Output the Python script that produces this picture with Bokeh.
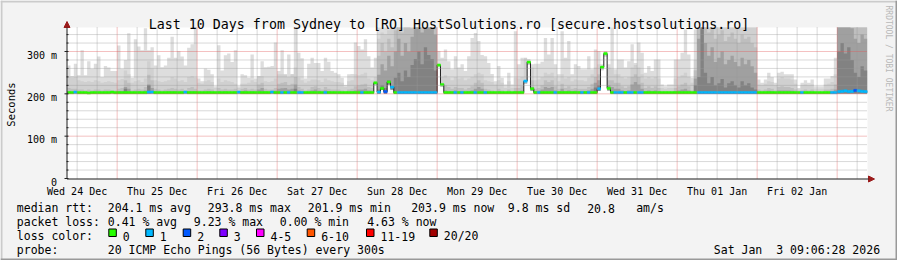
import math
from datetime import datetime, timedelta
import numpy as np
from bokeh.plotting import figure
from bokeh.models import Range1d, Label, Arrow, NormalHead, BoxAnnotation
from bokeh.core.properties import value
from bokeh.embed import file_html
from bokeh.resources import INLINE

# ---------------- data ----------------
TITLE = "Last 10 Days from Sydney to [RO] HostSolutions.ro [secure.hostsolutions.ro]"
END_TIME = datetime(2026, 1, 3, 9, 6, 28)
SPAN_DAYS = 10
STEP_SECONDS = 3600
DAY_LABELS = ["Wed 24 Dec", "Thu 25 Dec", "Fri 26 Dec", "Sat 27 Dec", "Sun 28 Dec",
              "Mon 29 Dec", "Tue 30 Dec", "Wed 31 Dec", "Thu 01 Jan", "Fri 02 Jan"]
Y_TICKS = [0, 100, 200, 300]
Y_TICK_LABELS = ["0", "100 m", "200 m", "300 m"]
Y_MINOR_STEP = 20
Y_MAX = 356.7
Y_LABEL = "Seconds"

# hourly smoke bands (ms); outermost (max) to innermost
SMOKE_MAX = [
    267, 242, 271, 244, 303, 244, 277, 259, 271, 288, 240, 266, 262, 254, 254, 314, 259, 280, 343, 238,
    329, 312, 303, 355, 303, 310, 267, 291, 263, 267, 285, 335, 285, 301, 288, 267, 309, 317, 360, 236,
    230, 260, 257, 246, 218, 315, 255, 291, 295, 275, 303, 218, 246, 244, 238, 293, 236, 236, 277, 263,
    264, 266, 321, 254, 303, 238, 293, 246, 355, 297, 284, 236, 271, 285, 273, 273, 254, 285, 276, 254,
    250, 246, 238, 221, 246, 247, 321, 313, 305, 329, 289, 262, 285, 360, 360, 360, 360, 360, 360, 360,
    360, 360, 360, 360, 360, 360, 360, 360, 360, 360, 360, 301, 285, 305, 277, 258, 289, 262, 270, 254,
    289, 332, 344, 325, 292, 289, 273, 247, 230, 266, 238, 222, 250, 222, 348, 270, 285, 281, 282, 270,
    271, 271, 276, 332, 293, 332, 270, 246, 348, 285, 325, 246, 270, 266, 258, 258, 289, 258, 305, 301,
    270, 300, 270, 360, 258, 281, 281, 262, 277, 317, 273, 321, 297, 250, 266, 254, 281, 281, 222, 218,
    222, 222, 281, 281, 297, 352, 293, 238, 352, 360, 360, 360, 360, 360, 360, 360, 360, 360, 360, 360,
    360, 360, 360, 360, 360, 360, 360, 234, 226, 234, 250, 240, 226, 250, 252, 246, 246, 246, 234, 214,
    226, 232, 226, 234, 218, 218, 218, 236, 236, 242, 285, 360, 360, 360, 360, 360, 360, 360, 360, 360,
]
SMOKE_Q2 = [
    240, 238, 240, 232, 230, 228, 230, 228, 232, 230, 226, 228, 230, 228, 226, 232, 235, 255, 246, 226,
    230, 232, 228, 236, 277, 260, 232, 230, 228, 230, 232, 240, 236, 230, 232, 228, 240, 242, 238, 226,
    224, 230, 232, 228, 214, 236, 228, 232, 230, 228, 224, 214, 224, 224, 226, 232, 228, 242, 242, 230,
    228, 230, 236, 246, 246, 246, 240, 246, 262, 238, 232, 226, 230, 234, 234, 232, 228, 236, 232, 230,
    228, 228, 226, 216, 230, 232, 246, 244, 246, 250, 236, 232, 240, 330, 345, 340, 350, 355, 360, 360,
    360, 360, 360, 360, 360, 360, 360, 360, 360, 360, 360, 246, 240, 244, 238, 232, 240, 236, 238, 232,
    236, 240, 246, 250, 246, 232, 230, 228, 222, 232, 226, 214, 230, 214, 238, 236, 240, 285, 278, 262,
    232, 234, 240, 250, 246, 250, 238, 230, 246, 236, 240, 230, 234, 232, 232, 230, 238, 246, 262, 270,
    265, 300, 262, 258, 246, 246, 240, 236, 240, 262, 268, 262, 246, 236, 240, 236, 240, 236, 214, 212,
    214, 214, 236, 240, 244, 250, 240, 226, 280, 360, 360, 360, 360, 360, 360, 360, 360, 360, 360, 360,
    360, 360, 360, 360, 360, 360, 360, 222, 220, 224, 230, 228, 220, 236, 240, 236, 236, 234, 224, 210,
    220, 222, 220, 222, 212, 212, 212, 222, 224, 228, 246, 360, 360, 360, 360, 360, 360, 360, 360, 360,
]
SMOKE_Q3 = [
    214, 212, 212, 210, 210, 208, 210, 208, 210, 210, 208, 210, 210, 208, 208, 212, 214, 232, 226, 208,
    210, 212, 210, 216, 245, 232, 212, 210, 208, 210, 212, 214, 212, 210, 212, 208, 214, 216, 212, 208,
    208, 210, 212, 210, 206, 214, 210, 212, 210, 210, 212, 206, 212, 214, 210, 212, 210, 222, 226, 212,
    210, 210, 214, 224, 226, 228, 220, 224, 240, 216, 212, 208, 210, 216, 218, 214, 210, 216, 212, 210,
    210, 210, 208, 206, 210, 212, 218, 220, 222, 224, 216, 214, 218, 290, 320, 300, 330, 310, 350, 360,
    345, 360, 360, 355, 360, 360, 360, 360, 360, 360, 360, 222, 218, 220, 216, 212, 216, 214, 214, 210,
    214, 218, 226, 232, 226, 212, 210, 208, 206, 212, 208, 204, 210, 204, 214, 214, 218, 232, 262, 232,
    212, 214, 220, 232, 228, 232, 218, 212, 224, 214, 218, 212, 214, 212, 212, 212, 216, 224, 240, 246,
    250, 270, 232, 232, 226, 226, 218, 214, 218, 240, 246, 240, 226, 214, 218, 214, 218, 214, 206, 206,
    206, 206, 214, 218, 222, 226, 218, 208, 256, 360, 360, 360, 345, 360, 330, 340, 350, 325, 335, 345,
    330, 320, 340, 330, 335, 320, 310, 210, 208, 210, 214, 212, 208, 216, 218, 216, 216, 214, 210, 206,
    208, 210, 208, 210, 204, 204, 204, 210, 210, 212, 222, 360, 360, 360, 360, 360, 360, 360, 360, 360,
]
SMOKE_Q4 = [
    206, 205, 205, 204, 204, 204, 205, 204, 205, 205, 204, 205, 205, 204, 204, 206, 206, 216, 212, 204,
    205, 206, 205, 208, 222, 214, 206, 205, 204, 205, 206, 206, 206, 205, 206, 204, 206, 206, 206, 204,
    204, 205, 206, 205, 203, 206, 205, 206, 205, 205, 206, 203, 206, 208, 205, 206, 205, 210, 214, 206,
    205, 205, 207, 212, 213, 214, 210, 212, 222, 208, 206, 204, 205, 208, 210, 207, 205, 208, 206, 205,
    205, 205, 204, 203, 205, 206, 208, 210, 210, 212, 208, 207, 212, 245, 270, 255, 290, 265, 300, 330,
    290, 320, 300, 335, 360, 360, 345, 360, 360, 360, 340, 210, 208, 208, 206, 206, 208, 206, 206, 205,
    206, 208, 212, 216, 212, 206, 205, 204, 203, 206, 204, 203, 205, 203, 206, 206, 208, 222, 240, 216,
    206, 207, 210, 216, 214, 216, 208, 206, 212, 206, 208, 206, 207, 206, 206, 206, 208, 212, 226, 232,
    238, 250, 220, 216, 212, 212, 208, 206, 208, 222, 228, 222, 212, 206, 208, 206, 208, 206, 203, 203,
    203, 203, 206, 208, 210, 212, 208, 204, 236, 330, 360, 320, 290, 310, 275, 285, 300, 270, 280, 290,
    275, 265, 285, 270, 280, 265, 250, 205, 204, 205, 207, 206, 204, 208, 208, 208, 208, 207, 205, 203,
    204, 205, 204, 205, 203, 203, 203, 205, 205, 206, 210, 360, 360, 360, 360, 355, 330, 320, 340, 330,
]
SMOKE_Q5 = [
    201, 201, 201, 201, 201, 201, 201, 201, 201, 201, 201, 201, 201, 201, 201, 201, 201, 212, 201, 201,
    201, 201, 201, 201, 220, 201, 201, 201, 201, 201, 201, 201, 201, 201, 201, 201, 201, 201, 201, 201,
    201, 201, 201, 201, 201, 201, 201, 201, 201, 201, 201, 201, 201, 201, 201, 201, 201, 201, 201, 201,
    201, 201, 201, 201, 201, 201, 201, 201, 212, 201, 201, 201, 201, 201, 201, 201, 201, 201, 201, 201,
    201, 201, 201, 201, 201, 201, 201, 201, 201, 201, 201, 201, 201, 210, 220, 214, 232, 218, 238, 250,
    230, 255, 240, 268, 282, 300, 270, 310, 292, 282, 255, 201, 201, 201, 201, 201, 201, 201, 201, 201,
    201, 201, 201, 201, 201, 201, 201, 201, 201, 201, 201, 201, 201, 201, 201, 201, 201, 215, 230, 201,
    201, 201, 201, 201, 201, 201, 201, 201, 201, 201, 201, 201, 201, 201, 201, 201, 201, 201, 215, 220,
    225, 235, 201, 201, 201, 201, 201, 201, 201, 201, 201, 201, 201, 201, 201, 201, 201, 201, 201, 201,
    201, 201, 201, 201, 201, 201, 201, 201, 220, 240, 360, 250, 225, 240, 220, 225, 235, 215, 225, 230,
    220, 215, 230, 220, 225, 215, 210, 201, 201, 201, 201, 201, 201, 201, 201, 201, 201, 201, 201, 201,
    201, 201, 201, 201, 201, 201, 201, 201, 201, 201, 201, 300, 320, 295, 310, 280, 250, 240, 265, 255,
]
# lowest ping of each hour (bottom of the smoke)
PING_MIN = [
    201, 201, 201, 201, 201, 201, 201, 201, 201, 201, 201, 201, 201, 201, 201, 201, 201, 201, 201, 201,
    201, 201, 201, 201, 201, 201, 201, 201, 201, 201, 201, 201, 201, 201, 201, 201, 201, 201, 201, 201,
    201, 201, 201, 201, 201, 201, 201, 201, 201, 201, 201, 201, 201, 201, 201, 201, 201, 201, 201, 201,
    201, 201, 201, 201, 201, 201, 201, 201, 201, 201, 201, 201, 201, 201, 201, 201, 201, 201, 201, 201,
    201, 201, 201, 201, 201, 201, 201, 201, 201, 201, 201, 201, 220, 201, 209, 201, 222, 210, 201, 201,
    201, 201, 201, 201, 201, 201, 201, 201, 201, 201, 201, 262, 216, 201, 201, 201, 201, 201, 201, 201,
    201, 201, 201, 201, 201, 201, 201, 201, 201, 201, 201, 201, 201, 201, 201, 201, 201, 224, 268, 207,
    201, 201, 201, 201, 201, 201, 201, 201, 201, 201, 201, 201, 201, 201, 201, 201, 201, 201, 201, 207,
    256, 288, 208, 201, 201, 201, 201, 201, 201, 201, 201, 201, 201, 201, 201, 201, 201, 201, 201, 201,
    201, 201, 201, 201, 201, 201, 201, 201, 201, 201, 201, 201, 201, 201, 201, 201, 201, 201, 201, 201,
    201, 201, 201, 201, 201, 201, 201, 201, 201, 201, 201, 201, 201, 201, 201, 201, 201, 201, 201, 201,
    201, 201, 201, 201, 201, 201, 201, 201, 201, 201, 201, 201, 201, 201, 201, 201, 201, 201, 201, 201,
]
MEDIAN = [
    203, 203, 204, 203, 203, 203, 202, 203, 203, 203, 203, 203, 203, 204, 203, 203, 203, 203, 203, 203,
    203, 203, 203, 203, 204, 204, 203, 203, 203, 203, 203, 203, 203, 203, 203, 204, 203, 203, 203, 203,
    203, 203, 203, 203, 203, 203, 203, 203, 203, 203, 203, 204, 203, 203, 203, 203, 203, 203, 203, 203,
    203, 204, 203, 203, 203, 203, 203, 203, 203, 203, 203, 203, 203, 203, 203, 203, 203, 203, 203, 203,
    203, 203, 203, 203, 203, 203, 203, 203, 203, 203, 203, 203, 226, 204, 213, 205, 228, 216, 203, 203,
    203, 203, 203, 203, 203, 203, 203, 203, 203, 203, 203, 268, 222, 203, 203, 203, 203, 203, 203, 203,
    203, 203, 203, 203, 203, 203, 203, 203, 203, 203, 203, 203, 203, 203, 203, 203, 203, 230, 275, 212,
    203, 203, 203, 203, 203, 203, 203, 203, 203, 203, 203, 203, 203, 203, 203, 203, 203, 203, 203, 212,
    263, 295, 213, 203, 203, 203, 203, 203, 203, 203, 203, 203, 203, 203, 203, 203, 203, 203, 203, 203,
    203, 203, 203, 203, 203, 203, 203, 203, 203, 203, 203, 203, 203, 203, 203, 203, 203, 203, 203, 203,
    203, 203, 203, 203, 203, 203, 203, 203, 203, 203, 203, 203, 203, 203, 203, 203, 203, 203, 203, 203,
    203, 203, 203, 203, 203, 203, 203, 203, 203, 203, 203, 205, 206, 207, 205, 206, 208, 207, 206, 205,
]
# lost pings (of 20) per hour
LOSS = [
    0, 0, 1, 0, 0, 0, 0, 0, 0, 0, 0, 0, 0, 0, 0, 0, 0, 0, 0, 0,
    0, 0, 0, 0, 1, 1, 0, 0, 0, 0, 0, 0, 0, 0, 0, 1, 0, 0, 0, 0,
    0, 0, 0, 0, 0, 0, 0, 0, 0, 0, 0, 1, 0, 0, 0, 0, 0, 0, 0, 0,
    0, 1, 0, 0, 1, 0, 1, 0, 0, 1, 1, 0, 0, 0, 0, 0, 0, 1, 0, 0,
    0, 0, 0, 0, 0, 0, 0, 0, 1, 0, 0, 0, 0, 1, 0, 2, 0, 1, 0, 1,
    1, 1, 1, 1, 1, 1, 1, 1, 1, 1, 1, 0, 0, 0, 0, 0, 1, 0, 1, 0,
    0, 0, 1, 0, 0, 1, 0, 0, 0, 0, 0, 0, 0, 0, 0, 0, 0, 1, 0, 0,
    0, 1, 0, 0, 0, 0, 1, 0, 0, 0, 0, 0, 0, 0, 1, 0, 1, 0, 0, 1,
    0, 0, 0, 0, 1, 1, 1, 0, 1, 1, 0, 1, 1, 0, 0, 0, 0, 0, 0, 0,
    0, 0, 0, 0, 0, 0, 0, 0, 0, 1, 1, 1, 1, 1, 1, 1, 1, 1, 1, 1,
    1, 1, 1, 1, 1, 1, 1, 0, 0, 0, 0, 0, 0, 0, 0, 0, 0, 0, 0, 0,
    1, 0, 0, 0, 0, 0, 0, 0, 0, 1, 1, 1, 1, 1, 1, 1, 2, 1, 1, 1,
]
LOSS_LABELS = ["0", "1", "2", "3", "4-5", "6-10", "11-19", "20/20"]
LOSS_UPPER = [0, 1, 2, 3, 5, 10, 19, 20]
LOSS_COLORS = ["#26ff00", "#00b8ff", "#0059ff", "#7e00ff", "#ff00ff", "#ff5500", "#ff0000", "#a10000"]

RTT_STATS = ["204.1 ms avg", "293.8 ms max", "201.9 ms min", "203.9 ms now", "9.8 ms sd", "20.8", "am/s"]
LOSS_STATS = ["0.41 % avg", "9.23 % max", "0.00 % min", "4.63 % now"]
PROBE_TEXT = "20 ICMP Echo Pings (56 Bytes) every 300s"
WATERMARK = "RRDTOOL / TOBI OETIKER"

# ---------------- layout / style ----------------
W, H = 897, 260
FL, FR_PX, FT, FB = 67, 867, 27, 178          # graph area edges in pixels
FONT = "DejaVu Sans Mono"
SMOKE_COLORS = ["#DDDDDD", "#D0D0D0", "#BEBEBE", "#A0A0A0", "#828282"]
ARROW_C = "#9A1A1A"
AXIS_C = "#202020"
BACK_C = "#F3F3F3"

start = END_TIME - timedelta(days=SPAN_DAYS)
total = SPAN_DAYS * 86400
SEC_PX = total / (FR_PX - FL)          # seconds per pixel
MS_PX = Y_MAX / (FB - FT)              # ms per pixel
X_LO, X_HI = -FL * SEC_PX, total + (W - FR_PX) * SEC_PX
Y_LO, Y_HI = -(H - FB) * MS_PX, FB * MS_PX


def secs(dt):
    return int((dt - start).total_seconds())


first_hour = start.replace(minute=0, second=0)
n = len(SMOKE_MAX)
edges = np.clip(np.array([secs(first_hour) + STEP_SECONDS * i for i in range(n + 1)], dtype=float), 0, total)

noon0 = start.replace(hour=12, minute=0, second=0)
noon_ticks = [secs(noon0 + timedelta(days=k)) for k in range(len(DAY_LABELS))]
mid0 = (start + timedelta(days=1)).replace(hour=0, minute=0, second=0)
midnights = [secs(mid0 + timedelta(days=k)) for k in range(SPAN_DAYS) if secs(mid0 + timedelta(days=k)) < total]
six = []
t = noon0
while secs(t) < total:
    if secs(t) not in midnights:
        six.append(secs(t))
    t += timedelta(hours=6)

p = figure(width=W, height=H, x_range=Range1d(X_LO, X_HI), y_range=Range1d(Y_LO, Y_HI),
           x_axis_type=None, y_axis_type=None, min_border=0,
           output_backend="svg", toolbar_location=None,
           background_fill_color=BACK_C, border_fill_color=BACK_C, outline_line_color=None)
p.grid.visible = False

# white graph canvas
p.add_layout(BoxAnnotation(left=0, right=total, bottom=0, top=Y_MAX, fill_color="#FFFFFF",
                           fill_alpha=1.0, line_alpha=0.0, level="underlay"))

# smoke
bottom = np.array(PING_MIN, dtype=float)
for vals, col in zip([SMOKE_MAX, SMOKE_Q2, SMOKE_Q3, SMOKE_Q4, SMOKE_Q5], SMOKE_COLORS):
    top = np.minimum(np.maximum(np.array(vals, dtype=float), bottom), Y_MAX)
    p.varea_step(x=edges, y1=np.append(bottom, bottom[-1]), y2=np.append(top, top[-1]),
                 step_mode="after", fill_color=col)

# median: thin black step line + loss-coloured band
med = np.array(MEDIAN, dtype=float)
p.step(x=edges, y=np.append(med, med[-1]), mode="after", line_color=AXIS_C, line_width=1)


def loss_color(l):
    for up, c in zip(LOSS_UPPER, LOSS_COLORS):
        if l <= up:
            return c
    return LOSS_COLORS[-1]


cols = [loss_color(l) for l in LOSS]
p.quad(left=edges[:-1], right=edges[1:], bottom=med - 2.6, top=med + 2.6,
       fill_color=cols, line_color=cols, line_width=0.5)

# grid (drawn over the graph like rrdtool)
ymin_ticks = [v for v in range(Y_MINOR_STEP, int(Y_MAX), Y_MINOR_STEP) if v % 100]
ymaj_ticks = [v for v in Y_TICKS if v > 0]
for xs, col in [(six, "#9A9A9A"), (midnights, "#E05A5A")]:
    p.segment(x0=xs, x1=xs, y0=[0] * len(xs), y1=[Y_MAX] * len(xs),
              line_color=col, line_alpha=0.75, line_width=1, line_dash="1 1")
for ys, col in [(ymin_ticks, "#9A9A9A"), (ymaj_ticks, "#E05A5A")]:
    p.segment(x0=[0] * len(ys), x1=[total] * len(ys), y0=ys, y1=ys,
              line_color=col, line_alpha=0.75, line_width=1, line_dash="1 1")

# y-axis ticks
yall = list(range(0, int(Y_MAX), Y_MINOR_STEP))
ymaj = [v for v in yall if v % 100 == 0]
ymin = [v for v in yall if v % 100]
p.segment(x0=[-3 * SEC_PX] * len(ymaj), x1=[1 * SEC_PX] * len(ymaj), y0=ymaj, y1=ymaj,
          line_color=AXIS_C, line_width=1)
p.segment(x0=[-1 * SEC_PX] * len(ymin), x1=[1 * SEC_PX] * len(ymin), y0=ymin, y1=ymin,
          line_color=AXIS_C, line_width=1)

# tick labels
p.text(x=[0] * len(Y_TICKS), y=Y_TICKS, text=Y_TICK_LABELS, x_offset=-10.5, y_offset=3.8,
       text_align="right", text_baseline="alphabetic", text_font=value(FONT),
       text_font_size=value("10px"), text_color="#000000")
p.text(x=noon_ticks, y=[0] * len(noon_ticks), text=DAY_LABELS, y_offset=12.7,
       text_align="center", text_baseline="alphabetic", text_font=value(FONT),
       text_font_size=value("10px"), text_color="#000000")


def add_text(text, px, py, size, align="left", baseline="alphabetic", angle=0.0, color="#000000"):
    p.add_layout(Label(x=px, y=H - py, x_units="screen", y_units="screen", text=text,
                       text_font=FONT, text_font_size=f"{size}px", text_color=color,
                       text_align=align, text_baseline=baseline, angle=angle))


def add_box(px0, py0, px1, py1, color, line=None):
    p.add_layout(BoxAnnotation(left=px0, right=px1, top=H - py0, bottom=H - py1,
                               left_units="screen", right_units="screen",
                               top_units="screen", bottom_units="screen",
                               fill_color=color, fill_alpha=1.0,
                               line_color=line if line else color, line_alpha=1.0 if line else 0.0,
                               line_width=1, level="overlay"))


# 3D border
add_box(0, 0, W, 2, "#CBCBCB")
add_box(0, 0, 2, H, "#CBCBCB")
add_box(0, H - 2, W, H, "#999999")
add_box(W - 2, 0, W, H, "#999999")

# axis lines with arrows
for (x0, y0, x1, y1) in [(FL - 0.5, FB + 0.5, 874, FB + 0.5), (FL - 0.5, FB + 0.5, FL - 0.5, 21)]:
    p.add_layout(Arrow(end=NormalHead(size=6, fill_color=ARROW_C, line_color=ARROW_C, line_width=1),
                       x_start=x0, y_start=H - y0, x_end=x1, y_end=H - y1,
                       start_units="screen", end_units="screen", line_color=AXIS_C, line_width=1))

# title, axis label, watermark
add_text(TITLE, W / 2, 23.5, 13.3, align="center")
add_text(Y_LABEL, 10.5, 104, 10.5, align="center", baseline="middle", angle=math.pi / 2)
add_text(WATERMARK, 887.5, 5, 8, align="left", baseline="middle", angle=-math.pi / 2, color="#B8B8B8")

# legend
LEG = 11.5
rtt_x = [107.3, 207.3, 307.3, 410.7, 507.3, 586.7, 635.7]
add_text("median rtt:", 16.3, 207.5, LEG)
for s, x in zip(RTT_STATS, rtt_x):
    add_text(s, x, 207.5, LEG)
loss_x = [107.3, 193.3, 279.3, 366.7]
add_text("packet loss:", 16.3, 221.5, LEG)
for s, x in zip(LOSS_STATS, loss_x):
    add_text(s, x, 221.5, LEG)
add_text("loss color:", 16.3, 235.5, LEG)
lab_x = [122.3, 159.3, 196.7, 233.3, 270.0, 320.7, 380.0, 443.3]
for s, c, x in zip(LOSS_LABELS, LOSS_COLORS, lab_x):
    add_box(x - 14, 228.5, x - 6.5, 236, c, line="#000000")
    add_text(s, x, 235.5, LEG)
add_text("probe:", 16.3, 249.5, LEG)
add_text(PROBE_TEXT, 107.3, 249.5, LEG)
add_text(END_TIME.strftime("%a %b"), 713.3, 249.5, LEG)
add_text(f"{END_TIME.day} {END_TIME:%H:%M:%S %Y}", 775.7, 249.5, LEG)

open("out.html", "w").write(file_html(p, INLINE))
